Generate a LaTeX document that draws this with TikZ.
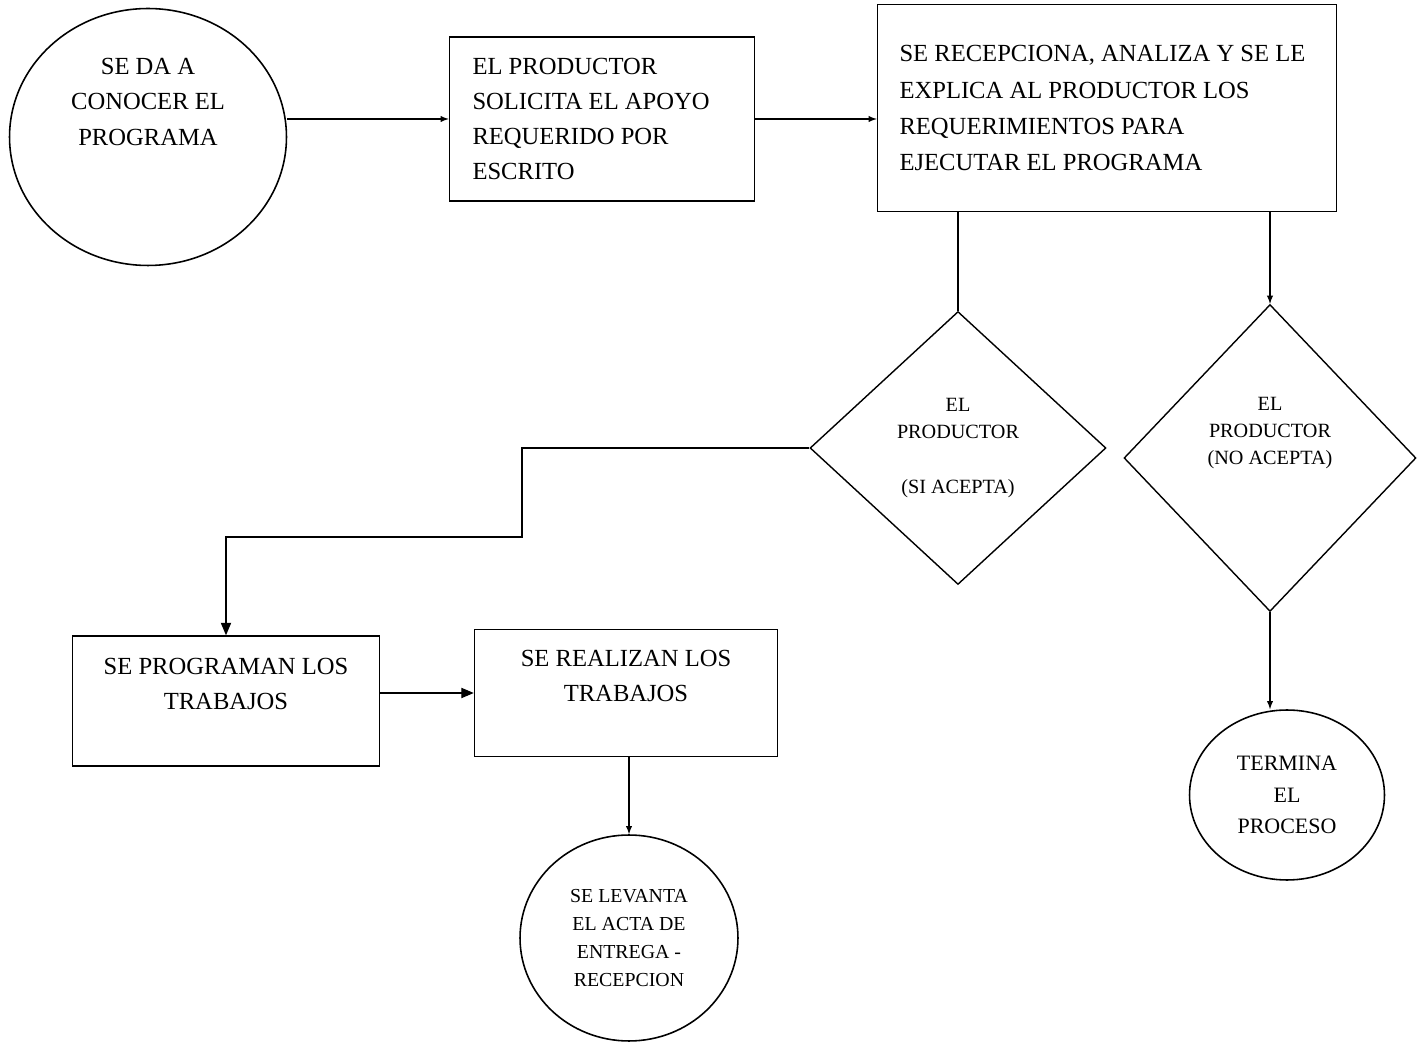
\documentclass[tikz,border=0pt]{standalone}
\usepackage{fontspec}
\setmainfont{Liberation Serif}
\usepackage{tikz}
\usetikzlibrary{arrows,shapes.geometric}

\begin{document}
\begin{tikzpicture}[x=0.02cm,y=-0.02cm,
    caja/.style={draw,line width=0.9pt,rectangle,inner sep=0pt},
    circulo/.style={draw,line width=0.9pt,ellipse,inner sep=0pt,align=center},
    rombo/.style={draw,line width=0.8pt,diamond,inner sep=0pt,align=center,
        font=\fontsize{11.5}{15.5}\selectfont},
    flecha/.style={line width=0.6pt,->,>=latex},
    linea/.style={line width=0.6pt}]
\useasboundingbox (0,0) rectangle (1418,1043);
\tikzset{every node/.append style={font=\fontsize{14}{20}\selectfont}}

\node[circulo,minimum width=5.54cm,minimum height=5.14cm] (inicio) at (148,137)
    {SE DA A\\CONOCER EL\\PROGRAMA\\~\\~};
\node[caja,minimum width=6.1cm,minimum height=3.28cm,inner xsep=0.46cm,
    text width=5.18cm,align=flush left] (solicitud) at (602,119)
    {EL PRODUCTOR\\SOLICITA EL APOYO\\REQUERIDO POR\\ESCRITO};
\node[caja,minimum width=9.18cm,minimum height=4.14cm,inner xsep=0.44cm,
    text width=8.3cm,align=flush left,font=\fontsize{14}{20.5}\selectfont] (recepcion) at (1107,108)
    {\mbox{SE RECEPCIONA, ANALIZA Y SE LE}\\EXPLICA AL PRODUCTOR LOS\\REQUERIMIENTOS PARA\\EJECUTAR EL PROGRAMA};

\node[rombo,minimum width=5.92cm,minimum height=5.46cm] (siacepta) at (958,448)
    {EL\\PRODUCTOR\\~\\(SI ACEPTA)};
\node[rombo,minimum width=5.84cm,minimum height=6.14cm] (noacepta) at (1270,458)
    {EL\\PRODUCTOR\\(NO ACEPTA)\\~\\~};

\node[caja,minimum width=6.14cm,minimum height=2.6cm,align=center] (programan) at (226,701)
    {SE PROGRAMAN LOS\\TRABAJOS\\~};
\node[caja,minimum width=6.06cm,minimum height=2.54cm,align=center] (realizan) at (626,693)
    {SE REALIZAN LOS\\TRABAJOS\\~};

\node[circulo,minimum width=4.36cm,minimum height=4.12cm,
    font=\fontsize{11.3}{16}\selectfont] (acta) at (629,938)
    {SE LEVANTA\\EL ACTA DE\\ENTREGA -\\RECEPCION};
\node[circulo,minimum width=3.9cm,minimum height=3.4cm,
    font=\fontsize{12.5}{18}\selectfont] (termina) at (1287,795)
    {TERMINA\\EL\\PROCESO};

\coordinate (codo) at (522,537);

\draw[flecha] (solicitud.west -| inicio.east) -- (solicitud.west);
\draw[flecha] (solicitud.east) -- (solicitud.east -| recepcion.west);
\draw[linea] (siacepta.north |- recepcion.south) -- (siacepta.north);
\draw[flecha] (noacepta.north |- recepcion.south) -- (noacepta.north);
\draw[flecha,>=triangle 45] (siacepta.west) -| (codo) -| (programan.north);
\draw[flecha,>=triangle 45] (programan.east |- realizan.west) -- (realizan.west);
\draw[flecha] (acta.north |- realizan.south) -- (acta.north);
\draw[flecha] (noacepta.south) -- (noacepta.south |- termina.north);
\end{tikzpicture}
\end{document}
